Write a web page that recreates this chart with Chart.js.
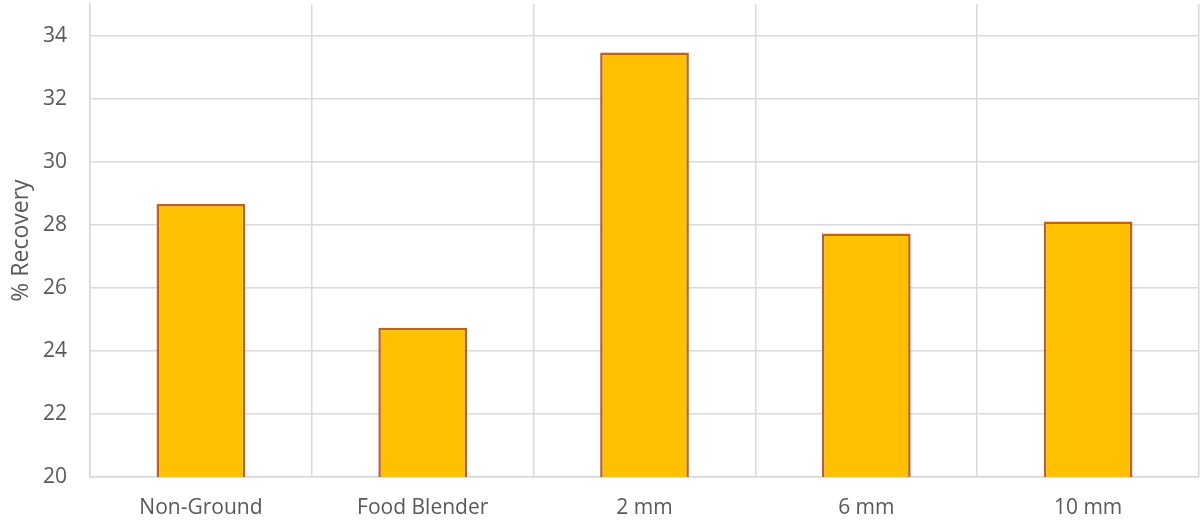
<!DOCTYPE html>
<html>
<head>
<meta charset="utf-8">
<script src="https://cdn.jsdelivr.net/npm/chart.js@4"></script>
<style>
html,body{margin:0;padding:0;background:#fff;}
#wrap{width:1200px;height:524px;position:relative;}
</style>
</head>
<body>
<div id="wrap"><canvas id="c" width="1200" height="524"></canvas></div>
<script>
const categories = ["Non-Ground", "Food Blender", "2 mm", "6 mm", "10 mm"];
const recovery = [28.66, 24.73, 33.46, 27.72, 28.1];
const yTicks = [20, 22, 24, 26, 28, 30, 32, 34];
const yTitle = "% Recovery";

const FONT = "'Open Sans', 'Liberation Sans', Arial, sans-serif";
const TXT = "#595959";
const GRID = "#D9D9D9";

new Chart(document.getElementById('c'), {
  type: 'bar',
  data: {
    labels: categories,
    datasets: [{
      data: recovery,
      backgroundColor: '#FFC000',
      borderColor: '#B8612A',
      borderWidth: 2.5,
      borderSkipped: 'bottom',
      barPercentage: 0.4,
      categoryPercentage: 1.0
    }]
  },
  options: {
    responsive: false,
    animation: false,
    layout: { padding: { top: 4, right: 1, left: 0, bottom: 0 } },
    plugins: { legend: { display: false }, tooltip: { enabled: false } },
    scales: {
      x: {
        grid: { color: GRID, lineWidth: 1.5, drawTicks: false, offset: true },
        border: { color: GRID, width: 1.5 },
        ticks: { color: TXT, font: { family: FONT, size: 21 }, padding: 18 },
        afterFit: s => { s.height = 47; s.paddingTop = 0; }
      },
      y: {
        min: 20, max: 35,
        afterBuildTicks: axis => { axis.ticks = yTicks.map(v => ({ value: v })); },
        grid: { color: GRID, lineWidth: 1.5, drawTicks: false },
        border: { color: GRID, width: 1.5 },
        ticks: { color: TXT, font: { family: FONT, size: 21 }, padding: 23 },
        title: { display: true, text: yTitle, color: TXT, font: { family: FONT, size: 23 }, padding: { top: 8, bottom: 0 } },
        afterFit: s => { s.width = 90; s.paddingTop = 0; s.paddingBottom = 0; }
      }
    }
  }
});
</script>
</body>
</html>
